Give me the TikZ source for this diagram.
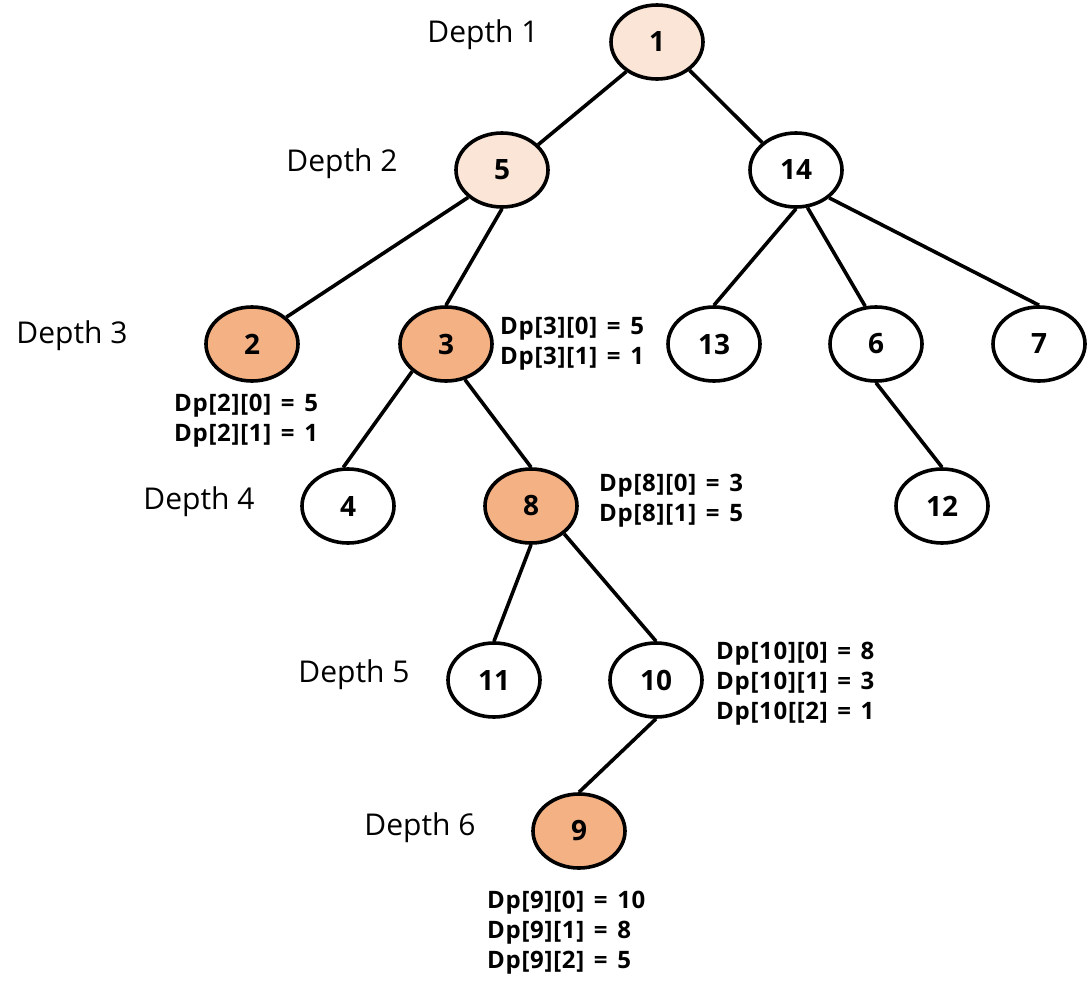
\documentclass[tikz,border=0pt]{standalone}
\usepackage{fontspec}
\setmainfont{Open Sans}
\usetikzlibrary{shapes.geometric}
\definecolor{peachlight}{HTML}{FBE5D6}
\definecolor{peachdark}{HTML}{F4B183}
\newcommand{\eqs}{\hspace{0.4em}=\hspace{0.4em}}
\tikzset{
  tnode/.style={ellipse, draw=black, line width=3.6pt, minimum width=92pt, minimum height=74pt, inner sep=0pt, font=\fontsize{28}{30}\selectfont\bfseries, fill=white},
  light/.style={fill=peachlight},
  dark/.style={fill=peachdark},
  edge/.style={line width=3.6pt},
  depth/.style={font=\fontsize{30}{34}\selectfont, inner sep=0pt},
  dp/.style={font=\fontsize{24}{30}\selectfont\bfseries\addfontfeature{LetterSpace=3}, align=left, inner sep=0pt, anchor=north west}
}
\begin{document}
\begin{tikzpicture}[x=1pt,y=-1pt]
\useasboundingbox (0,0) rectangle (1090,988);
% nodes
\node[tnode,light] (n1) at (657,42) {1};
\node[tnode,light] (n5) at (502,170) {5};
\node[tnode] (n14) at (796,170) {14};
\node[tnode,dark] (n2) at (252,344) {2};
\node[tnode,dark] (n3) at (446,344) {3};
\node[tnode] (n13) at (714,344) {13};
\node[tnode] (n6) at (876,344) {6};
\node[tnode] (n7) at (1039,344) {7};
\node[tnode] (n4) at (348,506) {4};
\node[tnode,dark] (n8) at (531,506) {8};
\node[tnode] (n12) at (942,506) {12};
\node[tnode] (n11) at (494,680) {11};
\node[tnode] (n10) at (656,680) {10};
\node[tnode,dark] (n9) at (579,831) {9};
% edges
\draw[edge] (n1.224) -- (n5.35);
\draw[edge] (n1.319) -- (n14.141);
\draw[edge] (n5.219) -- (n2.38);
\draw[edge] (n5.south) -- (n3.north);
\draw[edge] (n14.south) -- (n13.north);
\draw[edge] (n14.287) -- (n6.106);
\draw[edge] (n14.320) -- (n7.north);
\draw[edge] (n3.219) -- (n4.97);
\draw[edge] (n3.298) -- (n8.north);
\draw[edge] (n6.south) -- (n12.north);
\draw[edge] (n8.south) -- (n11.north);
\draw[edge] (n8.320) -- (n10.north);
\draw[edge] (n10.south) -- (n9.north);
% depth labels
\node[depth] (d1) at (483,35) {Depth 1};
\node[depth] (d2) at (342,164) {Depth 2};
\node[depth] (d3) at (72,336) {Depth 3};
\node[depth] (d4) at (199,502) {Depth 4};
\node[depth] (d5) at (354,675) {Depth 5};
\node[depth] (d6) at (420,828) {Depth 6};
% dp labels
\node[dp] (p2) at (174,394) {Dp[2][0]\eqs5\\Dp[2][1]\eqs1};
\node[dp] (p3) at (500,317) {Dp[3][0]\eqs5\\Dp[3][1]\eqs1};
\node[dp] (p8) at (599,474) {Dp[8][0]\eqs3\\Dp[8][1]\eqs5};
\node[dp] (p10) at (716,642) {Dp[10][0]\eqs8\\Dp[10][1]\eqs3\\Dp[10[[2]\eqs1};
\node[dp] (p9) at (487,891) {Dp[9][0]\eqs10\\Dp[9][1]\eqs8\\Dp[9][2]\eqs5};
\end{tikzpicture}
\end{document}
